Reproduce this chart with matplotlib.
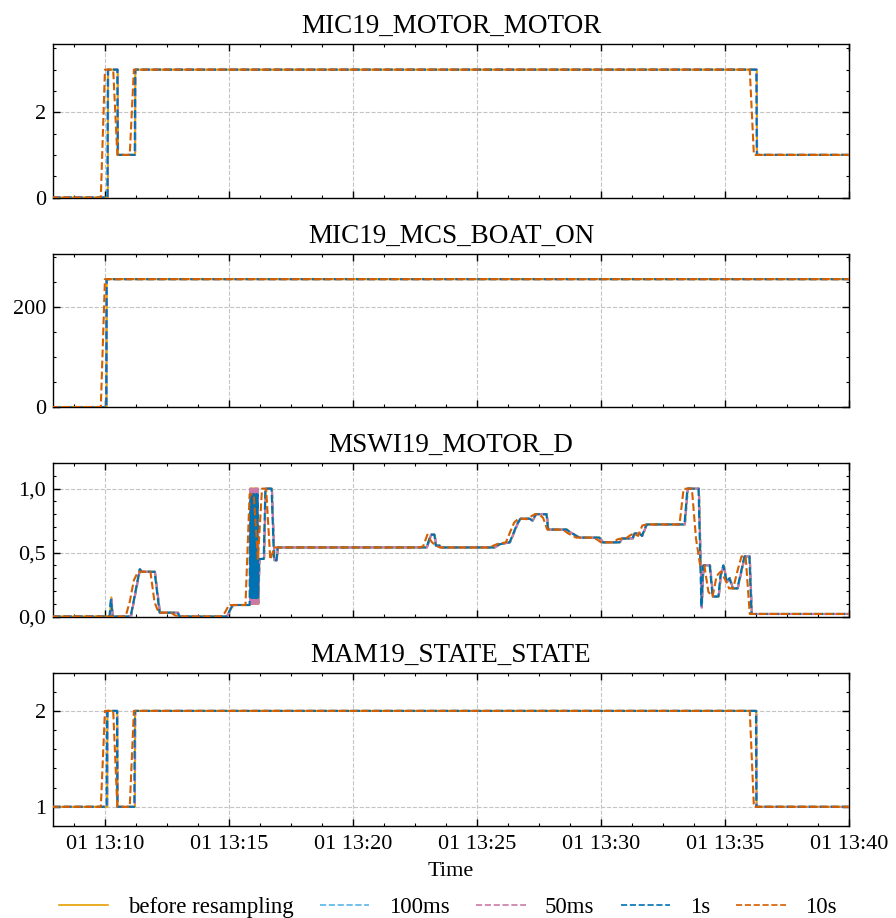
import numpy as np
import pandas as pd
import matplotlib
matplotlib.use("Agg")
import matplotlib.pyplot as plt
import matplotlib.dates as mdates
from matplotlib.ticker import ScalarFormatter, AutoMinorLocator, MultipleLocator
from matplotlib.lines import Line2D

plt.rcParams.update({
    "font.family": ["Liberation Serif", "DejaVu Serif"],
    "font.size": 16,
    "axes.linewidth": 1.0,
    "xtick.direction": "in",
    "ytick.direction": "in",
    "xtick.top": True,
    "ytick.right": True,
    "xtick.major.size": 5,
    "ytick.major.size": 5,
    "xtick.minor.size": 2.5,
    "ytick.minor.size": 2.5,
    "xtick.major.width": 1.0,
    "ytick.major.width": 1.0,
    "xtick.minor.width": 0.8,
    "ytick.minor.width": 0.8,
    "xtick.major.pad": 6.5,
    "ytick.major.pad": 5,
    "xtick.minor.visible": True,
    "ytick.minor.visible": True,
})

# Reference time of the recording; offsets below are seconds from it
T0 = pd.Timestamp("2023-01-01 13:10:00")

# Recorded (raw) signals: sample offsets in seconds and values
motor_t = [-126, 7, 7.5, 31, 31.5, 73, 73.5, 1577, 1577.5, 1800]
motor_v = [0, 0, 3, 3, 1, 1, 3, 3, 1, 1]

boat_t = [-126, 4, 4.5, 1800]
boat_v = [0, 0, 255, 255]

motor_d_t = [-126, 12, 15.5, 19, 63, 75, 85, 90, 121, 133, 177, 181, 295, 310, 351,
             352, 353, 354, 355, 356, 357, 358, 359, 360, 361, 362, 363, 364, 365,
             366, 367, 368, 369, 370, 371, 374, 380, 385, 389, 404, 410, 416, 418.5,
             779, 789, 798, 801, 810, 813, 943, 955, 980, 999, 1006, 1028, 1035,
             1043, 1069, 1073, 1118, 1125, 1149, 1197, 1205, 1246, 1251, 1277, 1282,
             1294, 1300, 1311, 1403, 1410, 1437, 1444, 1448, 1464, 1471, 1485, 1490,
             1497, 1505, 1512, 1519, 1531, 1541, 1548, 1560, 1565, 1800]
motor_d_v = [0.0, 0.0, 0.15, 0.0, 0.0, 0.2, 0.37, 0.35, 0.35, 0.03, 0.03, 0.0, 0.0, 0.09, 0.09,
             1.0, 0.1, 1.0, 0.1, 1.0, 0.1, 1.0, 0.1, 1.0, 0.1, 1.0, 0.1, 1.0, 0.1,
             1.0, 0.1, 1.0, 0.1, 1.0, 0.1, 0.45, 0.45, 0.45, 1.0, 1.0, 0.44, 0.44, 0.54,
             0.54, 0.64, 0.64, 0.555, 0.555, 0.54, 0.54, 0.565, 0.58, 0.73, 0.765, 0.765, 0.75,
             0.80, 0.80, 0.68, 0.68, 0.66, 0.617, 0.617, 0.58, 0.58, 0.61, 0.61, 0.65,
             0.65, 0.63, 0.72, 0.72, 1.0, 1.0, 0.07, 0.40, 0.40, 0.156, 0.156, 0.32,
             0.40, 0.27, 0.30, 0.22, 0.22, 0.37, 0.47, 0.47, 0.02, 0.02]

state_t = [-126, 5.5, 6, 30, 30.5, 72.5, 73, 1576, 1576.5, 1800]
state_v = [1, 1, 2, 2, 1, 1, 2, 2, 1, 1]

titles = ["MIC19_MOTOR_MOTOR", "MIC19_MCS_BOAT_ON", "MSWI19_MOTOR_D", "MAM19_STATE_STATE"]
signals = [(motor_t, motor_v), (boat_t, boat_v), (motor_d_t, motor_d_v), (state_t, state_v)]

rates = ["100ms", "50ms", "1s", "10s"]
labels = ["before resampling", "100ms", "50ms", "1s", "10s"]
colors = ["#E69F00", "#56B4E9", "#CC79A7", "#0072B2", "#D55E00"]


class CommaFormatter(ScalarFormatter):
    def __call__(self, x, pos=None):
        return super().__call__(x, pos).replace(".", ",")


def to_series(t, v):
    idx = T0 + pd.to_timedelta(np.asarray(t, dtype=float), unit="s")
    return pd.Series(np.asarray(v, dtype=float), index=idx)


def resample(raw, rate):
    grid = pd.date_range(raw.index[0].ceil("50ms"), raw.index[-1], freq="50ms")
    fine = raw.reindex(raw.index.union(grid)).interpolate("time").reindex(grid)
    return fine.resample(rate).last().dropna()


fig, axes = plt.subplots(4, 1, figsize=(8.96, 9.18), dpi=100, sharex=True)
fig.subplots_adjust(left=0.059, right=0.9475, top=0.952, bottom=0.1002, hspace=0.365)

for ax, title, (t, v) in zip(axes, titles, signals):
    raw = to_series(t, v)
    ax.plot(raw.index, raw.values, color=colors[0], lw=1.5, ls="-", zorder=2)
    for k, rate in enumerate(rates):
        rs = resample(raw, rate)
        ax.plot(rs.index, rs.values, color=colors[k + 1], lw=1.5, ls="--", zorder=3 + k)
    ax.set_title(title, pad=8, fontsize=19.5)
    ax.set_xlim(raw.index[0], raw.index[-1])
    ax.set_ylim(raw.min() * 0.8, raw.max() * 1.2)
    ax.yaxis.set_major_formatter(CommaFormatter())
    ax.yaxis.set_minor_locator(AutoMinorLocator())
    ax.grid(True, which="major", ls="--", color="#c4c4c4", lw=0.8)
    ax.set_axisbelow(True)

axes[0].yaxis.set_major_locator(MultipleLocator(2))
axes[1].yaxis.set_major_locator(MultipleLocator(200))
axes[2].yaxis.set_major_locator(MultipleLocator(0.5))
axes[3].yaxis.set_major_locator(MultipleLocator(1))

axes[-1].xaxis.set_major_locator(mdates.MinuteLocator(byminute=range(0, 60, 5)))
axes[-1].xaxis.set_major_formatter(mdates.DateFormatter("%d %H:%M"))
axes[-1].xaxis.set_minor_locator(AutoMinorLocator(4))
axes[-1].set_xlabel("Time", labelpad=6)

handles = [Line2D([], [], color=colors[0], lw=1.2, ls="-")] + \
          [Line2D([], [], color=c, lw=1.2, ls="--") for c in colors[1:]]
fig.legend(handles, labels, loc="lower center", ncol=5, frameon=False,
           bbox_to_anchor=(0.5, -0.023), handlelength=2.16, columnspacing=1.15,
           handletextpad=0.85, fontsize=16.5)

fig.savefig("out.png", dpi=100)
